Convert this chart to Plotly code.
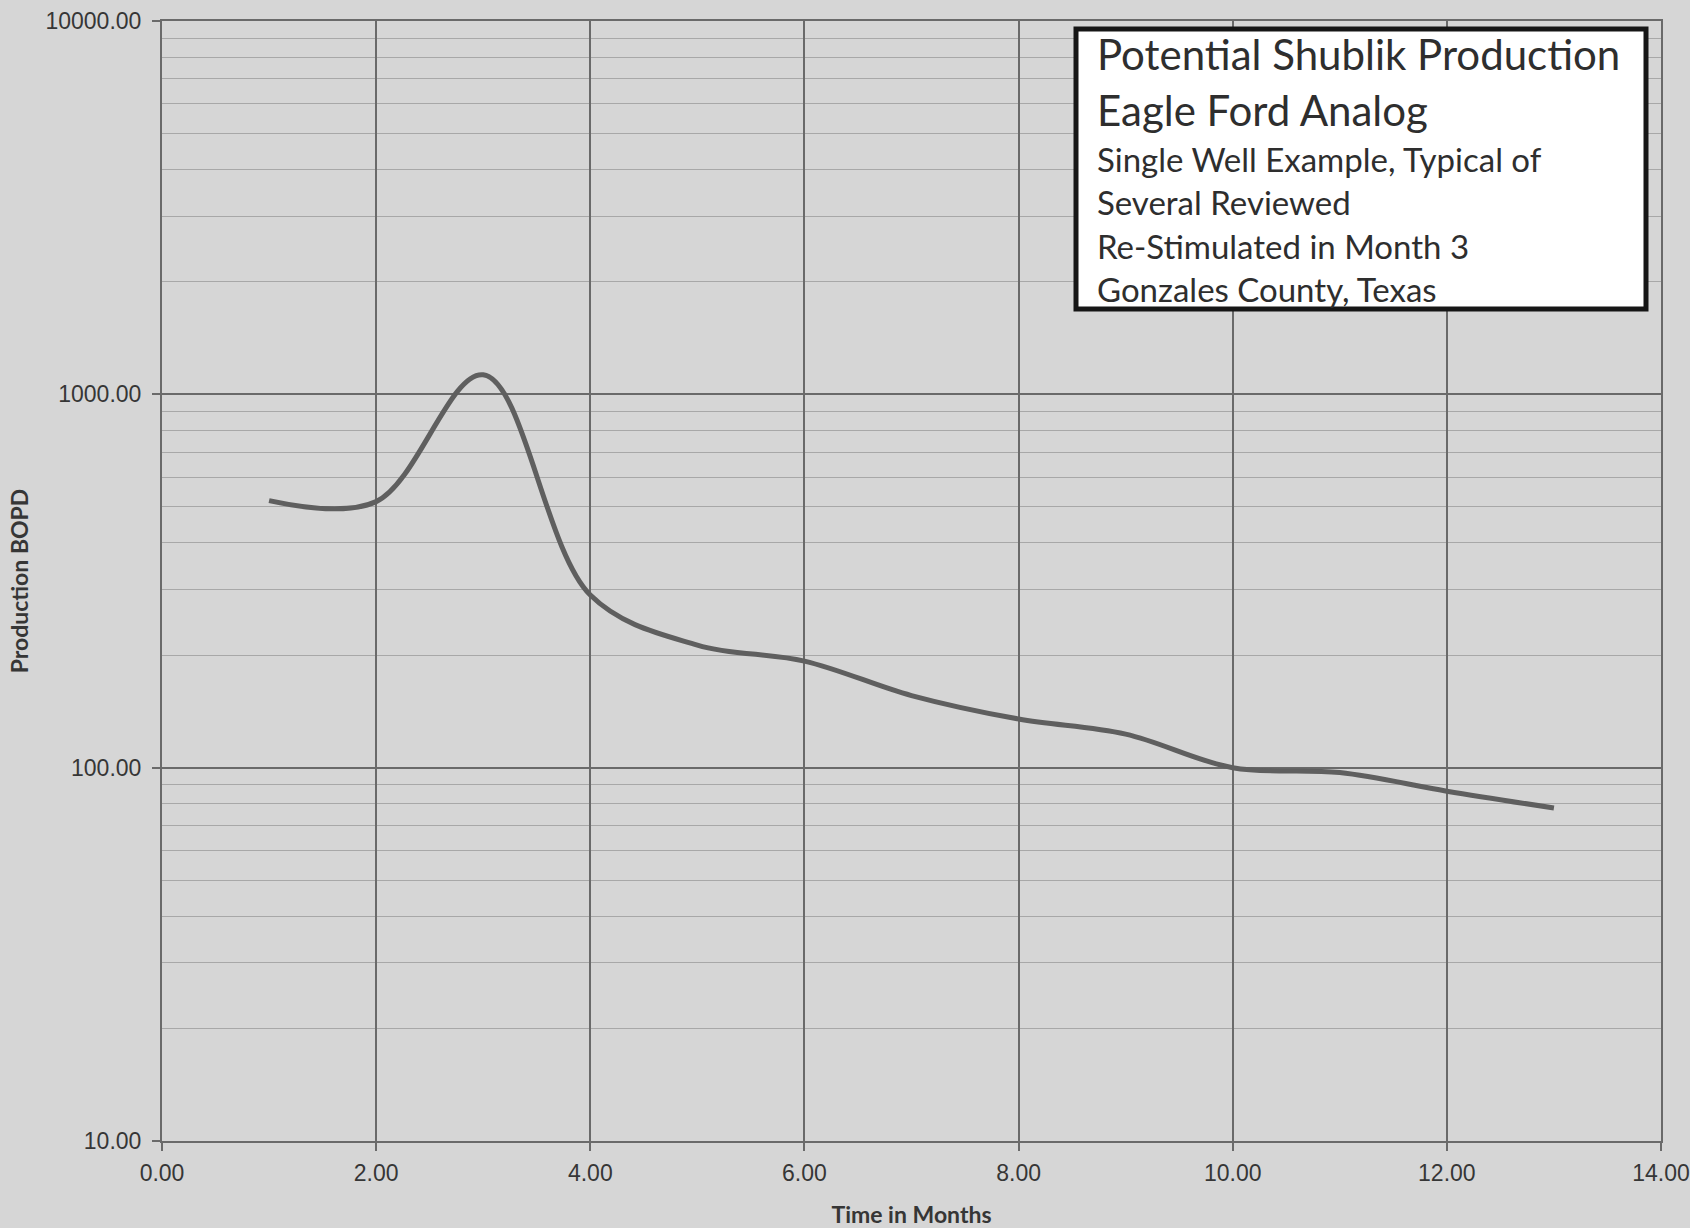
import plotly.graph_objects as go

# Monthly production of a single Eagle Ford well (barrels of oil per day)
months = [1, 2, 3, 4, 5, 6, 7, 8, 9, 10, 11, 12, 13]
bopd = [519, 516, 1128, 290, 213, 193, 156, 135, 123, 100, 97, 86.5, 78]

x_ticks = [0, 2, 4, 6, 8, 10, 12, 14]
y_decades = [10, 100, 1000, 10000]

box_heading = ["Potential Shublik Production", "Eagle Ford Analog"]
box_notes = [
    "Single Well Example, Typical of",
    "Several Reviewed",
    "Re-Stimulated in Month 3",
    "Gonzales County, Texas",
]

# ---- styling ----
W, H = 1690, 1228
M_L, M_R, M_T, M_B = 162, 29, 21, 87
BG = "#d6d6d6"
MAJOR = "#6a6a6a"
MINOR = "#a8a8a8"
LINE = "#5f5f5f"
TICK_FONT = dict(family="Liberation Sans, Arial, sans-serif", size=23, color="#363636")
TITLE_FONT = dict(family="Lato, sans-serif", size=23, color="#363636", weight="bold")
BOX_FONT = "Lato, sans-serif"

plot_w = W - M_L - M_R
plot_h = H - M_T - M_B


def px_x(px):
    return (px - M_L) / plot_w


def px_y(py):
    return (H - M_B - py) / plot_h


fig = go.Figure()
fig.add_trace(
    go.Scatter(
        x=months,
        y=bopd,
        mode="lines",
        line=dict(color=LINE, width=5, shape="spline", smoothing=1.0),
        hoverinfo="x+y",
        showlegend=False,
    )
)

fig.update_layout(
    width=W,
    height=H,
    margin=dict(l=M_L, r=M_R, t=M_T, b=M_B, autoexpand=False),
    paper_bgcolor=BG,
    plot_bgcolor=BG,
    xaxis=dict(
        range=[0, 14],
        tickmode="array",
        tickvals=x_ticks,
        tickformat=".2f",
        tickfont=TICK_FONT,
        ticks="outside",
        ticklen=8,
        tickwidth=1.5,
        tickcolor=MAJOR,
        ticklabelstandoff=2,
        showgrid=True,
        gridcolor=MAJOR,
        gridwidth=1.5,
        showline=True,
        linecolor=MAJOR,
        linewidth=2,
        mirror=True,
        zeroline=False,
        title=dict(text="Time in Months", font=TITLE_FONT, standoff=22),
    ),
    yaxis=dict(
        type="log",
        range=[1, 4],
        tickmode="linear",
        tick0=1,
        dtick=1,
        tickformat=".2f",
        tickfont=TICK_FONT,
        ticks="outside",
        ticklen=8,
        tickwidth=1.5,
        tickcolor=MAJOR,
        ticklabelstandoff=6,
        showgrid=True,
        gridcolor=MAJOR,
        gridwidth=1.5,
        minor=dict(dtick="D1", showgrid=True, gridcolor=MINOR, gridwidth=1.2, ticks=""),
        showline=True,
        linecolor=MAJOR,
        linewidth=2,
        mirror=True,
        zeroline=False,
        title=dict(text="Production BOPD", font=TITLE_FONT, standoff=10),
    ),
)

# Description box in the upper right corner
fig.add_shape(
    type="rect",
    xref="paper",
    yref="paper",
    x0=px_x(1076),
    x1=px_x(1646),
    y0=px_y(309),
    y1=px_y(29),
    line=dict(color="#161616", width=5),
    fillcolor="white",
    layer="above",
)

text_left = px_x(1095)
for i, line in enumerate(box_heading):
    fig.add_annotation(
        xref="paper", yref="paper",
        x=text_left, y=px_y(54 + 56 * i),
        xanchor="left", yanchor="middle",
        text=line, showarrow=False,
        font=dict(family=BOX_FONT, size=42, color="#2e2e2e"),
    )
for i, line in enumerate(box_notes):
    fig.add_annotation(
        xref="paper", yref="paper",
        x=text_left, y=px_y(159 + 43.3 * i),
        xanchor="left", yanchor="middle",
        text=line, showarrow=False,
        font=dict(family=BOX_FONT, size=33, color="#2e2e2e"),
    )

fig.write_html("out.html")
